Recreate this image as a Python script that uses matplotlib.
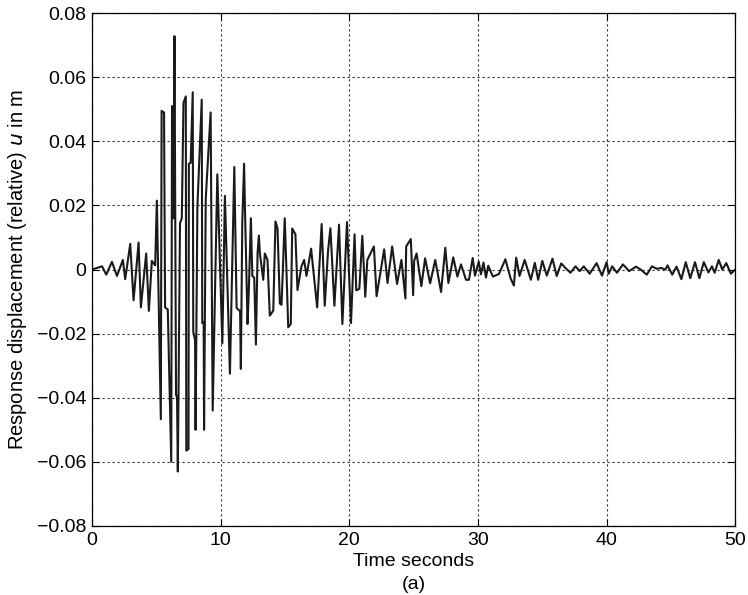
"""
Response displacement (relative) time history, figure (a)
"""

import numpy as np
import matplotlib
matplotlib.use("Agg")
import matplotlib.pyplot as plt
from matplotlib.ticker import FuncFormatter

plt.rcParams['font.family'] = ['Liberation Sans', 'DejaVu Sans']

# time [s] and displacement [m]
t = [0.00, 0.78, 1.11, 1.55, 1.94, 2.40, 2.58, 2.97, 3.23, 3.62,
     3.80, 4.21, 4.42, 4.65, 4.91, 5.04, 5.35, 5.41, 5.60, 5.68,
     5.89, 6.16, 6.22, 6.33, 6.41, 6.53, 6.61, 6.67, 6.84, 6.98,
     7.11, 7.29, 7.33, 7.50, 7.53, 7.67, 7.83, 7.87, 8.01, 8.05,
     8.19, 8.53, 8.57, 8.68, 8.71, 8.84, 9.22, 9.38, 9.74, 10.13,
     10.33, 10.72, 11.06, 11.24, 11.51, 11.57, 11.68, 11.82, 11.90, 12.09,
     12.19, 12.35, 12.46, 12.61, 12.74, 12.87, 12.97, 13.05, 13.31, 13.43,
     13.64, 13.82, 14.09, 14.26, 14.42, 14.60, 14.73, 14.81, 14.98, 15.12,
     15.25, 15.45, 15.56, 15.81, 15.97, 16.28, 16.49, 16.67, 17.03, 17.50,
     17.85, 18.09, 18.35, 18.53, 18.84, 19.20, 19.46, 19.82, 20.13, 20.41,
     20.54, 20.78, 21.01, 21.24, 21.40, 21.91, 22.12, 22.71, 22.97, 23.33,
     23.71, 24.05, 24.36, 24.42, 24.78, 24.96, 25.04, 25.23, 25.60, 25.89,
     26.28, 26.68, 27.13, 27.46, 27.70, 28.08, 28.40, 28.68, 29.07, 29.30,
     29.59, 29.77, 30.06, 30.23, 30.43, 30.62, 30.80, 31.16, 31.63, 32.13,
     32.53, 32.79, 32.97, 33.23, 33.63, 34.11, 34.42, 34.68, 35.00, 35.35,
     35.79, 36.12, 36.47, 36.79, 37.19, 37.58, 37.91, 38.22, 38.68, 39.22,
     39.64, 40.00, 40.16, 40.43, 40.80, 41.27, 41.75, 42.28, 42.64, 43.12,
     43.52, 43.91, 44.22, 44.57, 44.73, 45.10, 45.43, 45.81, 46.15, 46.50,
     46.87, 47.21, 47.55, 47.91, 48.19, 48.40, 48.71, 48.99, 49.30, 49.66,
     50.00]

u = [0.0, 0.001, -0.0016, 0.0024, -0.002, 0.003, -0.003, 0.008, -0.0096, 0.0084,
     -0.0118, 0.005, -0.0129, 0.0027, 0.0013, 0.0215, -0.0467, 0.0495, 0.049, -0.0118,
     -0.0125, -0.060, 0.051, 0.016, 0.0728, -0.039, -0.040, -0.063, 0.0144, 0.016,
     0.052, 0.054, -0.0565, -0.056, 0.033, 0.0333, 0.0553, -0.0194, -0.022, -0.050,
     0.0193, 0.053, -0.0167, -0.0165, -0.050, 0.022, 0.049, -0.044, 0.0297, -0.023,
     0.023, -0.0325, 0.032, -0.012, -0.013, -0.031, 0.0147, 0.033, 0.017, -0.017,
     -0.0064, 0.016, -0.002, -0.0025, -0.0234, 0.0053, 0.0106, 0.005, -0.0032, 0.005,
     0.003, -0.0144, -0.0128, 0.015, 0.0128, -0.0106, -0.011, -0.0027, 0.016, -0.001,
     -0.018, -0.017, 0.0128, 0.011, -0.0064, 0.001, 0.003, -0.002, 0.0065, -0.0118,
     0.0142, -0.0113, 0.006, 0.0129, -0.0113, 0.014, -0.017, 0.0148, -0.0167, 0.011,
     -0.0065, -0.006, 0.0105, -0.0085, 0.003, 0.0072, -0.0083, 0.0063, -0.0042, 0.0072,
     -0.0045, 0.003, -0.009, 0.0072, 0.0095, -0.008, 0.0027, 0.005, -0.0052, 0.0035,
     -0.0043, 0.003, -0.007, 0.0068, -0.0042, 0.0038, -0.0022, 0.0016, -0.0032, -0.0032,
     0.0036, -0.0019, 0.0025, -0.0015, 0.0022, -0.0025, 0.0012, -0.0022, -0.0014, 0.0032,
     -0.0027, -0.005, 0.0037, -0.002, 0.003, -0.0032, 0.0021, -0.0032, 0.0027, -0.0019,
     0.0034, -0.002, 0.0019, 0.0005, -0.001, 0.001, -0.0005, 0.001, -0.0013, 0.002,
     -0.0019, 0.0023, -0.0013, 0.001, -0.001, 0.0016, -0.0005, 0.0009, 0.0, -0.0016,
     0.001, 0.0002, 0.0005, 0.0, 0.0013, -0.0016, 0.0009, -0.003, 0.0023, -0.0027,
     0.0023, -0.0027, 0.0023, -0.0009, 0.001, -0.001, 0.003, 0.0, 0.002, -0.0013,
     0.0]

xticks = [0, 10, 20, 30, 40, 50]
yticks = [-0.08, -0.06, -0.04, -0.02, 0, 0.02, 0.04, 0.06, 0.08]

fig = plt.figure(figsize=(7.48, 5.95), dpi=100)
ax = fig.add_axes([0.123, 0.116, 0.860, 0.862])

ax.plot(t, u, color='#1a1a1a', linewidth=1.5)

ax.set_xlim(0, 50)
ax.set_ylim(-0.08, 0.08)
ax.set_xticks(xticks)
ax.set_yticks(yticks)
ax.yaxis.set_major_formatter(FuncFormatter(lambda v, p: '0' if abs(v) < 1e-9 else f'{v:.2f}'.replace('-', '\u2212')))
ax.grid(True, color='#333333', linestyle=(0, (2, 2.5)), linewidth=0.8)
ax.tick_params(direction='in', top=True, right=True, labelsize=14, length=5, pad=4)
for s in ax.spines.values():
    s.set_linewidth(0.9)

ax.set_xlabel('Time seconds\n(a)', fontsize=14, linespacing=1.45, labelpad=3)
ax.set_ylabel('Response displacement (relative) $u$ in m', fontsize=14.5, labelpad=6)

fig.savefig('out.png', dpi=100)
